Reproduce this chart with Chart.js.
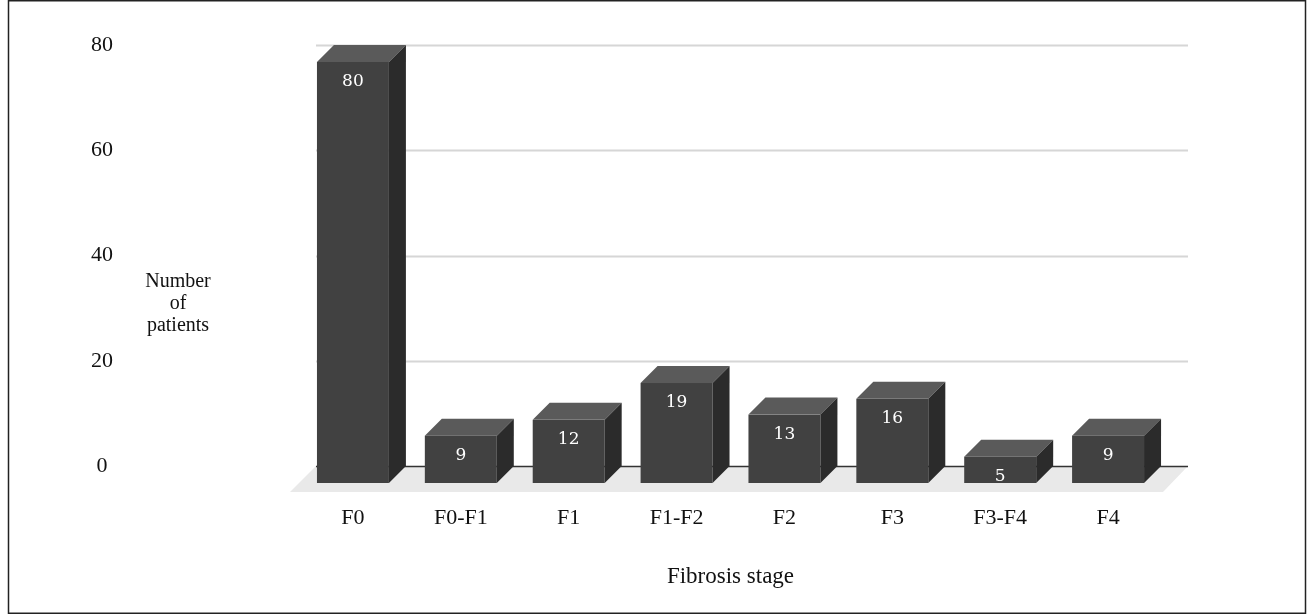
<!DOCTYPE html>
<html>
<head>
<meta charset="utf-8">
<script src="https://cdn.jsdelivr.net/npm/chart.js@4.4.0/dist/chart.umd.min.js"></script>
<style>
  html, body { margin: 0; padding: 0; background: #fff; }
  #wrap { width: 1308px; height: 615px; }
</style>
</head>
<body>
<div id="wrap"><canvas id="chart" width="1308" height="615"></canvas></div>
<script>
const stages = ['F0', 'F0-F1', 'F1', 'F1-F2', 'F2', 'F3', 'F3-F4', 'F4'];
const patients = [80, 9, 12, 19, 13, 16, 5, 9];
const yTicks = [0, 20, 40, 60, 80];
const yTitleLines = ['Number', 'of', 'patients'];
const xTitle = 'Fibrosis stage';

const depth = 17; // back face sits this far up and to the right
const faces = { front: '#414141', top: '#5a5a5a', side: '#2b2b2b' };
const serif = '"Liberation Serif", "Times New Roman", serif';

// draws floor, back-wall gridlines and the 3d boxes around each bar
const box3d = {
    id: 'box3d',
    beforeDatasetsDraw(chart) {
        const ctx = chart.ctx;
        const area = chart.chartArea;
        const y = chart.scales.y;
        const zero = y.getPixelForValue(0);
        ctx.save();
        ctx.fillStyle = '#e9e9e9';
        ctx.beginPath();
        ctx.moveTo(area.left + depth, zero);
        ctx.lineTo(area.right + 26, zero);
        ctx.lineTo(area.right + 1, zero + 26);
        ctx.lineTo(area.left - 9, zero + 26);
        ctx.closePath();
        ctx.fill();

        yTicks.forEach(v => {
            const py = Math.round(y.getPixelForValue(v)) + 0.5;
            ctx.strokeStyle = v === 0 ? '#333333' : '#d6d6d6';
            ctx.lineWidth = v === 0 ? 1.5 : 2;
            ctx.beginPath();
            ctx.moveTo(area.left + depth, py);
            ctx.lineTo(area.right + 26, py);
            ctx.stroke();
        });
        ctx.restore();
    },
    afterDatasetsDraw(chart) {
        const ctx = chart.ctx;
        const meta = chart.getDatasetMeta(0);
        ctx.save();
        meta.data.forEach((bar, i) => {
            const p = bar.getProps(['x', 'y', 'base', 'width'], true);
            const l = p.x - p.width / 2;
            const r = p.x + p.width / 2;
            const t = p.y + depth;
            const b = p.base + depth;

            ctx.fillStyle = faces.front;
            ctx.fillRect(l, t, r - l, b - t);

            ctx.fillStyle = faces.top;
            ctx.beginPath();
            ctx.moveTo(l, t);
            ctx.lineTo(r, t);
            ctx.lineTo(r + depth, t - depth);
            ctx.lineTo(l + depth, t - depth);
            ctx.closePath();
            ctx.fill();

            ctx.fillStyle = faces.side;
            ctx.beginPath();
            ctx.moveTo(r, t);
            ctx.lineTo(r + depth, t - depth);
            ctx.lineTo(r + depth, b - depth);
            ctx.lineTo(r, b);
            ctx.closePath();
            ctx.fill();

            ctx.fillStyle = '#ffffff';
            ctx.font = '17px "DejaVu Serif", serif';
            ctx.textAlign = 'center';
            ctx.textBaseline = 'middle';
            ctx.fillText(String(patients[i]), p.x, t + 19.5);
        });
        ctx.restore();
    },
    afterDraw(chart) {
        const ctx = chart.ctx;
        ctx.save();
        ctx.fillStyle = '#111111';
        ctx.font = '20px ' + serif;
        ctx.textAlign = 'center';
        ctx.textBaseline = 'middle';
        yTitleLines.forEach((line, i) => {
            ctx.fillText(line, 178, 282 + i * 22);
        });
        ctx.strokeStyle = '#222222';
        ctx.lineWidth = 1.5;
        ctx.strokeRect(8.5, 0.75, 1297, 612.5);
        ctx.restore();
    }
};

const ctx = document.getElementById('chart').getContext('2d');
new Chart(ctx, {
    type: 'bar',
    data: {
        labels: stages,
        datasets: [{
            data: patients,
            backgroundColor: 'rgba(0,0,0,0)',
            borderWidth: 0,
            barPercentage: 0.667,
            categoryPercentage: 1
        }]
    },
    options: {
        responsive: false,
        animation: false,
        devicePixelRatio: 1,
        layout: { padding: { top: 45, right: 146, bottom: 0, left: 0 } },
        plugins: {
            legend: { display: false },
            tooltip: { enabled: false }
        },
        scales: {
            x: {
                grid: { display: false, drawTicks: false },
                border: { display: false },
                ticks: { font: { family: serif, size: 22 }, color: '#111111', padding: 39 },
                title: {
                    display: true,
                    text: xTitle,
                    font: { family: serif, size: 23 },
                    color: '#111111',
                    padding: { top: 0, bottom: 24 }
                },
                afterFit(scale) {
                    scale.height = 149;
                    scale.paddingLeft = 0;
                    scale.paddingRight = 0;
                }
            },
            y: {
                min: 0,
                max: 80,
                grid: { display: false, drawTicks: false },
                border: { display: false },
                ticks: {
                    stepSize: 20,
                    font: { family: serif, size: 22 },
                    color: '#111111',
                    crossAlign: 'center',
                    padding: 186
                },
                afterFit(scale) {
                    scale.width = 299;
                    scale.paddingTop = 0;
                    scale.paddingBottom = 0;
                }
            }
        }
    },
    plugins: [box3d]
});
</script>
</body>
</html>
